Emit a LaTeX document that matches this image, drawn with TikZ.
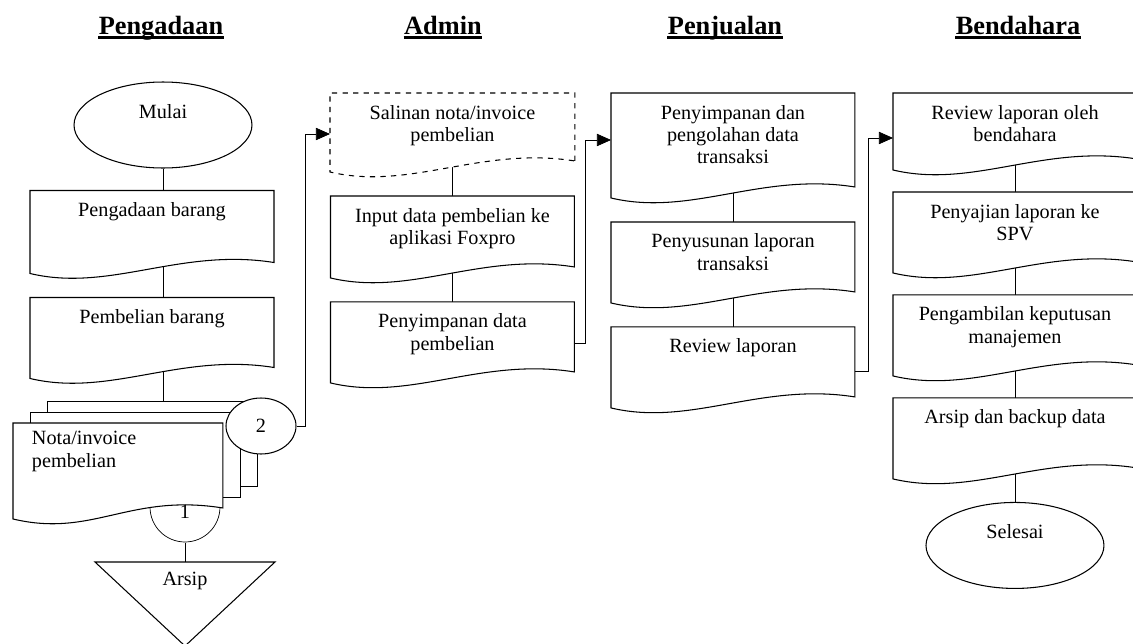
\documentclass[tikz,border=0pt]{standalone}
\usepackage{fontspec}
\setmainfont{Liberation Serif}
\usetikzlibrary{positioning,shapes.geometric,arrows.meta,calc}
\pgfdeclarelayer{bg}
\pgfsetlayers{bg,main}
\tikzset{
  docbox/.style args={#1/#2/#3/#4}{rectangle, inner sep=0pt, outer sep=0pt,
    execute at begin node={\begin{minipage}[c][#2][t]{#1}#4},
    execute at end node={\end{minipage}},
    append after command={\pgfextra{\draw[#3,fill=white]
      (\tikzlastnode.south east) -- (\tikzlastnode.north east)
      -- (\tikzlastnode.north west) -- ([yshift=-0.22cm]\tikzlastnode.south west)
      .. controls +(80,19) and +(-94,-15) .. (\tikzlastnode.south east) -- cycle;}}},
  doc/.style={docbox=4.88cm/#1/solid/\centering\vspace*{0.24cm}},
  copydoc/.style={docbox=4.9cm/#1/dashed/\centering\vspace*{0.24cm}},
  term/.style={ellipse, draw, fill=white, minimum width=3.56cm, minimum height=1.72cm,
    inner sep=0pt, text depth=0.55cm},
  conn/.style={ellipse, draw, fill=white, minimum width=1.4cm, minimum height=1.12cm, inner sep=0pt},
  lane/.style={font=\fontsize{15}{18}\selectfont\bfseries, inner sep=0pt, text depth=0.06cm, anchor=base},
  flow/.style={-{Triangle[length=8pt,width=7pt]}},
}

\begin{document}
\begin{tikzpicture}[x=0.02cm, y=-0.02cm, line width=0.6pt,
  font=\fontsize{11.5}{12.6}\selectfont]
\useasboundingbox (0,0) rectangle (1133,643);

% lanes
\node[lane] (h1) at (161,34) {Pengadaan};
\node[lane] (h2) at (443,34) {Admin};
\node[lane] (h3) at (725,34) {Penjualan};
\node[lane] (h4) at (1018,34) {Bendahara};
\foreach \h in {h1,h2,h3,h4}
  \draw[line width=1.6pt] (\h.south west) -- (\h.south east);

% Pengadaan
\node[term] (mulai) at (163,125) {Mulai};
\node[doc=1.44cm, below=0.44cm of mulai, xshift=-0.22cm] (pgb) {Pengadaan barang};
\node[doc=1.4cm, below=0.7cm of pgb] (pbl) {Pembelian barang};
\node[docbox=4.2cm/1.7cm/solid/\raggedright\leftskip0.38cm\vspace*{0.17cm}, anchor=north west]
  (nota) at (13,423) {Nota/invoice\\pembelian};
\node[conn] (c2) at (261,426) {2};
\node[circle, minimum size=1.4cm, inner sep=0pt, text height=0.44cm] (c1) at (185,507) {1};
\coordinate (arsiptop) at (185,562);
\draw[fill=white] (arsiptop) ++(-90,0) -- ++(180,0) -- ++(-90,84) -- cycle;
\node (arsip) at (185,581) {Arsip};

% Admin
\node[copydoc=1.36cm, anchor=north west] (salinan) at (330,93) {Salinan nota/invoice\\pembelian};
\node[doc=1.42cm, below=0.7cm of salinan] (input) {Input data pembelian ke\\aplikasi Foxpro};
\node[doc=1.4cm, below=0.7cm of input] (simpan) {Penyimpanan data\\pembelian};

% Penjualan
\node[doc=1.88cm, anchor=north west] (olah) at (611,93) {Penyimpanan dan\\pengolahan data\\transaksi};
\node[doc=1.4cm, below=0.7cm of olah] (susun) {Penyusunan laporan\\transaksi};
\node[doc=1.4cm, below=0.7cm of susun] (review) {Review laporan};

% Bendahara
\node[doc=1.32cm, anchor=north west] (rb) at (893,93) {Review laporan oleh\\bendahara};
\node[doc=1.4cm, below=0.66cm of rb] (saji) {Penyajian laporan ke\\SPV};
\node[doc=1.4cm, below=0.66cm of saji] (ambil) {Pengambilan keputusan\\manajemen};
\node[doc=1.4cm, below=0.66cm of ambil] (backup) {Arsip dan backup data};
\node[term, below=0.68cm of backup] (selesai) {Selesai};

\begin{pgfonlayer}{bg}
  \draw (mulai) -- (mulai |- pgb) (mulai |- pgb) -- (mulai |- pbl)
    (mulai |- pbl) -- (mulai |- nota.north);
  \draw (c1) -- (arsiptop);
  \draw (salinan) -- (input) (input) -- (simpan);
  \draw (olah) -- (susun) (susun) -- (review);
  \draw (rb) -- (saji) (saji) -- (ambil) (ambil) -- (backup) (backup) -- (selesai);
  % sheets behind the nota
  \foreach \dx/\dy in {34/22,17/11}
    \draw[fill=white] ($(nota.north west)+(\dx,-\dy)$) rectangle ($(nota.south east)+(\dx,-\dy)$);
  \draw[fill=white] (c1) circle[radius=0.7cm];
\end{pgfonlayer}

\draw[flow] (c2.east) -- ++(9,0) |- ([yshift=-0.14cm]salinan.west);
\draw[flow] ([yshift=-0.12cm]simpan.east) -- ++(11,0) |- (olah.west);
\draw[flow] ([yshift=-0.18cm]review.east) -- ++(13,0) |- ([yshift=-0.24cm]rb.west);
\end{tikzpicture}
\end{document}
